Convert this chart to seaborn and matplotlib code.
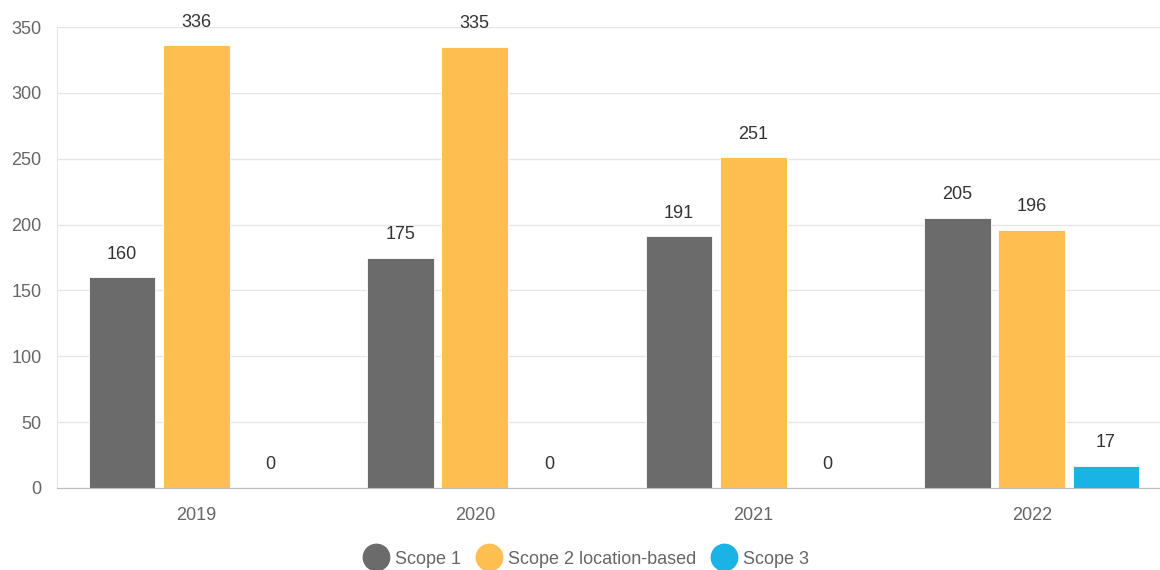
import matplotlib
matplotlib.use("Agg")
import matplotlib.pyplot as plt
import seaborn as sns
import pandas as pd
from matplotlib.lines import Line2D

years = ["2019", "2020", "2021", "2022"]
series = ["Scope 1", "Scope 2 location-based", "Scope 3"]
scope1 = [160, 175, 191, 205]
scope2 = [336, 335, 251, 196]
scope3 = [0, 0, 0, 17]
colors = ["#6b6b6b", "#ffbf50", "#1ab3e6"]

df = pd.DataFrame({
    "year": years * 3,
    "series": [series[0]] * 4 + [series[1]] * 4 + [series[2]] * 4,
    "value": scope1 + scope2 + scope3,
})

sns.set_style("white")
plt.rcParams["font.family"] = ["Liberation Sans", "DejaVu Sans"]

FS = 13

fig = plt.figure(figsize=(11.6, 5.7), dpi=100)
ax = fig.add_axes([57 / 1160, 82 / 570, 1114 / 1160, 461 / 570])

sns.barplot(data=df, x="year", y="value", hue="series", palette=colors,
            width=0.8, gap=0.1, ax=ax, legend=False, saturation=1,
            edgecolor="white", linewidth=0.6)

for cont in ax.containers:
    ax.bar_label(cont, fmt="%d", padding=10.5, fontsize=FS, color="#333333")

ax.set_ylim(0, 350)
ax.set_xlim(-0.5, 3.5)
ax.set_yticks(range(0, 351, 50))
ax.yaxis.grid(True, color="#e6e6e6", linewidth=1)
ax.set_axisbelow(True)
ax.set_xlabel("")
ax.set_ylabel("")
for s in ["top", "right"]:
    ax.spines[s].set_visible(False)
ax.spines["left"].set_color("#e6e6e6")
ax.spines["bottom"].set_color("#bdbdbd")
ax.tick_params(axis="y", length=10, color="#e6e6e6", labelsize=FS,
               labelcolor="#666666", pad=1)
ax.tick_params(axis="x", length=0, labelsize=FS, labelcolor="#666666", pad=13.5)

handles = [Line2D([0], [0], marker="o", linestyle="", markersize=19,
                  markerfacecolor=c, markeredgecolor=c) for c in colors]
fig.legend(handles, series, loc="center", bbox_to_anchor=(586 / 1160, 1 - 559 / 570),
           ncol=3, frameon=False, fontsize=FS, labelcolor="#666666",
           handletextpad=0.35, columnspacing=0.85, handlelength=1.4)

fig.savefig("out.png", dpi=100)
